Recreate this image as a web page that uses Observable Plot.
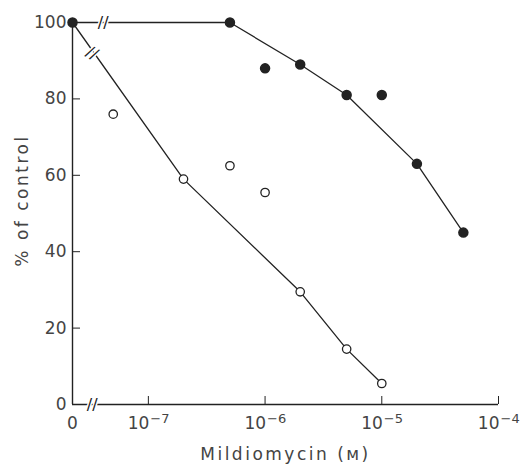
<!DOCTYPE html>
<html><head><meta charset="utf-8">
<script src="https://cdn.jsdelivr.net/npm/d3@7"></script>
<script src="https://cdn.jsdelivr.net/npm/@observablehq/plot@0.6"></script>
<style>body{margin:0;background:#fff} svg{display:block}</style>
</head><body><div id="chart"></div>
<script>
// position standing for concentration "0" on the broken log axis
const ZERO = 10 ** -7.65;
const filledX = [ZERO, 5e-7, 1e-6, 2e-6, 5e-6, 1e-5, 2e-5, 5e-5];
const filledY = [100, 100, 88, 89, 81, 81, 63, 45];
const filledOnLine = [true, true, false, true, true, false, true, true];
const openX = [ZERO, 5e-8, 2e-7, 5e-7, 1e-6, 2e-6, 5e-6, 1e-5];
const openY = [100, 76, 59, 62.5, 55.5, 29.5, 14.5, 5.5];
const openOnLine = [true, false, true, false, false, true, true, true];
const xTicks = [ZERO, 1e-7, 1e-6, 1e-5, 1e-4];
const xTickBase = ["0", "10", "10", "10", "10"];
const xTickExp = ["", "−7", "−6", "−5", "−4"];
const yTicks = [0, 20, 40, 60, 80, 100];
const breakX = [3.3e-8, 4.1e-8, 3.3e-8];
const breakY = [0, 100, 92];
const breakRotate = [0, 0, 30];
const xLabel = "Mildiomycin (ᴍ)";
const yLabel = "% of control";

const filled = filledX.map((x, i) => ({x, y: filledY[i], on: filledOnLine[i]}));
const open = openX.map((x, i) => ({x, y: openY[i], on: openOnLine[i]}));
const breaks = breakX.map((x, i) => ({x, y: breakY[i], r: breakRotate[i]}));
const tickLab = xTicks.map((x, i) => ({x, base: xTickBase[i], exp: xTickExp[i]}));

const ink = "#222";
const txt = "#444";
const chart = Plot.plot({
  width: 521, height: 468,
  marginLeft: 72, marginRight: 23, marginTop: 22, marginBottom: 64,
  style: {fontFamily: "DejaVu Sans", fontSize: "16px", color: txt, background: "#fff"},
  x: {type: "log", domain: [ZERO, 1e-4]},
  y: {domain: [0, 100]},
  marks: [
    Plot.ruleX([ZERO], {stroke: ink, strokeWidth: 1.4}),
    Plot.ruleY([0], {stroke: ink, strokeWidth: 1.4}),
    Plot.axisY({ticks: yTicks, tickSize: -8, tickPadding: 14, stroke: ink, label: null, fontSize: 17}),
    Plot.axisX({ticks: xTicks, tickFormat: () => "", tickSize: -8, stroke: ink, label: null}),
    Plot.text(tickLab.filter(d => d.exp === ""), {x: "x", text: "base", frameAnchor: "bottom", lineAnchor: "middle", dy: 19, fontSize: 17, fill: txt}),
    Plot.text(tickLab.filter(d => d.exp !== ""), {x: "x", text: "base", frameAnchor: "bottom", lineAnchor: "middle", textAnchor: "end", dx: 1, dy: 19, fontSize: 17, fill: txt}),
    Plot.text(tickLab.filter(d => d.exp !== ""), {x: "x", text: "exp", frameAnchor: "bottom", lineAnchor: "middle", textAnchor: "start", dx: 2, dy: 14, fontSize: 13, fill: txt}),
    Plot.text([xLabel], {text: d => d, frameAnchor: "bottom", lineAnchor: "middle", textAnchor: "middle", dy: 50, fontSize: 17, fill: txt}),
    Plot.text([yLabel], {text: d => d, frameAnchor: "left", lineAnchor: "middle", textAnchor: "middle", rotate: -90, dx: -50, dy: -13, fontSize: 17, fill: txt}),
    Plot.line(open.filter(d => d.on), {x: "x", y: "y", stroke: ink, strokeWidth: 1.3}),
    Plot.line(filled.filter(d => d.on), {x: "x", y: "y", stroke: ink, strokeWidth: 1.3}),
    Plot.text(breaks, {x: "x", y: "y", text: () => "//", rotate: "r", fontSize: 16, fill: ink, stroke: "white", strokeWidth: 3}),
    Plot.dot(open.filter((d, i) => i > 0), {x: "x", y: "y", r: 4.2, fill: "white", stroke: ink, strokeWidth: 1.3}),
    Plot.dot(filled, {x: "x", y: "y", r: 4.5, fill: ink, stroke: ink})
  ]
});
d3.select(chart).selectAll("text")
  .filter(function () { return this.textContent === xLabel || this.textContent === yLabel; })
  .style("letter-spacing", "2.5px");
document.getElementById("chart").append(chart);
</script>
</body></html>
